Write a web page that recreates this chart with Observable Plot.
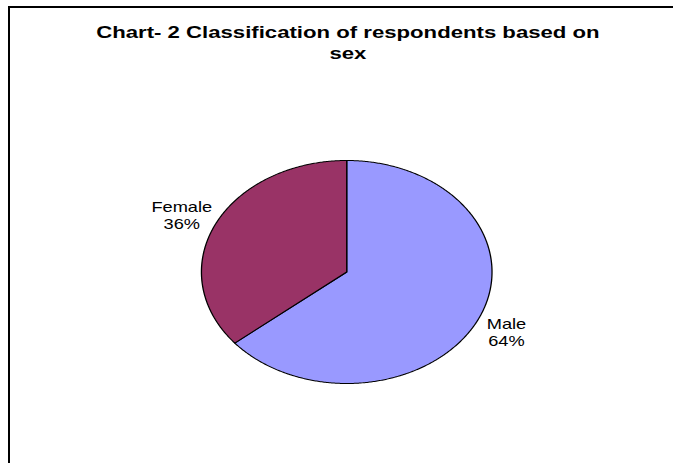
<!DOCTYPE html>
<html><head><meta charset="utf-8">
<script src="https://cdn.jsdelivr.net/npm/d3@7"></script>
<script src="https://cdn.jsdelivr.net/npm/@observablehq/plot@0.6"></script>
<style>
html,body{margin:0;padding:0;background:#fff;overflow:hidden;width:673px;height:463px;position:relative;}
#frame{position:absolute;left:8px;top:6px;width:663px;height:455px;border-left:2px solid #000;border-top:2px solid #000;pointer-events:none;}
#stage{position:absolute;left:0;top:0;width:516px;height:463px;transform:scaleX(1.303);transform-origin:0 0;overflow:hidden;}
#title{position:absolute;left:0;width:516px;box-sizing:border-box;padding-left:18px;top:22px;text-align:center;font:bold 17px/21px "Liberation Sans",Arial,sans-serif;color:#000;white-space:nowrap;}
#chart{position:absolute;left:0;top:0;}
</style>
</head><body>
<div id="frame"></div>
<div id="stage">
  <div id="chart"></div>
  <div id="title">Chart- 2 Classification of respondents based on<br>sex</div>
</div>
<script>
const categories = ["Male", "Female"];
const values = [64, 36];
const colors = ["#9999ff", "#993366"];

const total = d3.sum(values);
const pts = [];
const labels = [];
let acc = 0;
categories.forEach((c, i) => {
  const a0 = acc / total * 2 * Math.PI;
  const a1 = (acc + values[i]) / total * 2 * Math.PI;
  const n = Math.max(2, Math.ceil((a1 - a0) / (Math.PI / 360)));
  pts.push({cat: c, x: 0, y: 0});
  for (let k = 0; k <= n; k++) {
    const a = a0 + (a1 - a0) * k / n;
    pts.push({cat: c, x: Math.sin(a), y: Math.cos(a)});
  }
  pts.push({cat: c, x: 0, y: 0});
  const am = (a0 + a1) / 2;
  const R = 1.235;
  labels.push({x: R * Math.sin(am), y: R * Math.cos(am), text: `${c}\n${Math.round(values[i] / total * 100)}%`});
  acc += values[i];
});

const cx = 265.6, r = 111.5, cy = 271.5;
const chart = Plot.plot({
  width: 516,
  height: 463,
  margin: 0,
  style: {background: "transparent", fontFamily: "'Liberation Sans', Arial, sans-serif"},
  x: {domain: [-1, 1], range: [cx - r, cx + r], axis: null},
  y: {domain: [-1, 1], range: [cy + r, cy - r], axis: null},
  color: {domain: categories, range: colors},
  marks: [
    Plot.line(pts, {x: "x", y: "y", z: "cat", fill: "cat", stroke: "#000", strokeWidth: 1, strokeLinejoin: "round"}),
    Plot.text(labels, {x: "x", y: "y", text: "text", fontSize: 14, lineHeight: 1.25, fill: "#000", textAnchor: "middle", dx: -2, dy: 1.5})
  ]
});
document.getElementById("chart").appendChild(chart);
</script>
</body></html>
